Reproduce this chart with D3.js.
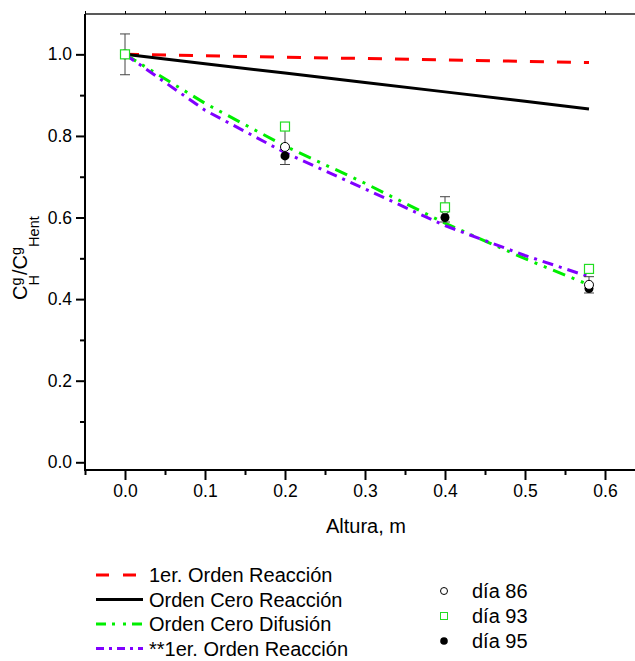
<!DOCTYPE html>
<head>
  <meta charset="utf-8">
  <title>Altura vs C/Cent</title>
  <script src="https://d3js.org/d3.v7.min.js"></script>
  <style>
    body { margin: 0; background: #fff; }
    text { font-family: "Liberation Sans", Arial, sans-serif; fill: #000; }
  </style>
</head>
<body>
<svg width="635" height="661"></svg>

<script type="text/javascript">

// model curves, all sampled at the same heights
var xModel = [0, 0.1, 0.2, 0.3, 0.4, 0.5, 0.58];
var rxn1   = [1.0, 0.9966, 0.9931, 0.9897, 0.9862, 0.9828, 0.980];
var rxn0   = [1.0, 0.977, 0.954, 0.931, 0.908, 0.885, 0.866];
var dif0   = [1.0, 0.880, 0.775, 0.684, 0.586, 0.499, 0.435];
var rxn1b  = [1.0, 0.863, 0.759, 0.670, 0.580, 0.507, 0.455];

// measurements
var xData  = [0, 0.2, 0.4, 0.58];
var dia86  = [1.0, 0.773, 0.620, 0.435];
var err86  = [0.05, 0.043, 0.031, 0.02];
var dia93  = [1.0, 0.823, 0.625, 0.474];
var dia95  = [1.0, 0.751, 0.600, 0.426];

var xTicks = [0, 0.1, 0.2, 0.3, 0.4, 0.5, 0.6];
var yTicks = [0, 0.2, 0.4, 0.6, 0.8, 1.0];

var lineNames = ["1er. Orden Reacción", "Orden Cero Reacción", "Orden Cero Difusión", "**1er. Orden Reacción"];
var pointNames = ["día 86", "día 93", "día 95"];

var svg = d3.select("svg");

var x = d3.scaleLinear().domain([-0.05, 0.65]).range([85, 645]);
var y = d3.scaleLinear().domain([-0.0189, 1.0989]).range([470, 14]);

// frame top line
svg.append("line").attr("x1", 85).attr("x2", 645).attr("y1", 14).attr("y2", 14)
  .attr("stroke", "#222").attr("stroke-width", 1.5);

// top ticks (small, outward)
svg.append("g").attr("transform", "translate(0,14)")
  .call(d3.axisTop(x).tickValues(d3.range(-0.05, 0.66, 0.05)).tickSize(3).tickFormat(""))
  .call(function(g) { g.select(".domain").remove(); g.selectAll("line").attr("stroke-width", 1); });

// bottom axis
var xAxis = svg.append("g").attr("transform", "translate(0,470)");
xAxis.call(d3.axisBottom(x).tickValues(d3.range(-0.05, 0.66, 0.1)).tickSize(5).tickFormat(""))
  .call(function(g) { g.select(".domain").remove(); });
xAxis.append("g").call(d3.axisBottom(x).tickValues(xTicks).tickSize(10).tickPadding(5).tickFormat(d3.format(".1f")))
  .call(function(g) { g.select(".domain").remove(); g.selectAll("text").attr("font-size", 17.5).attr("font-family", null); });
xAxis.selectAll("line").attr("stroke-width", 2);
svg.append("line").attr("x1", 84).attr("x2", 645).attr("y1", 470).attr("y2", 470)
  .attr("stroke", "#000").attr("stroke-width", 2);

// left axis
var yAxis = svg.append("g").attr("transform", "translate(85,0)");
yAxis.call(d3.axisLeft(y).tickValues([0.1, 0.3, 0.5, 0.7, 0.9]).tickSize(5).tickFormat(""))
  .call(function(g) { g.select(".domain").remove(); });
yAxis.append("g").call(d3.axisLeft(y).tickValues(yTicks).tickSize(9).tickPadding(4).tickFormat(d3.format(".1f")))
  .call(function(g) { g.select(".domain").remove(); g.selectAll("text").attr("font-size", 17.5).attr("font-family", null); });
yAxis.selectAll("line").attr("stroke-width", 2);
svg.append("line").attr("x1", 85).attr("x2", 85).attr("y1", 14).attr("y2", 471)
  .attr("stroke", "#000").attr("stroke-width", 2);

// axis titles
svg.append("text").attr("x", 366).attr("y", 533).attr("text-anchor", "middle")
  .attr("font-size", 20).text("Altura, m");

var yt = svg.append("text").attr("transform", "translate(27,300) rotate(-90)").attr("font-size", 20);
yt.append("tspan").text("C");
yt.append("tspan").attr("font-size", 14.5).attr("dy", -6).text("g");
yt.append("tspan").attr("font-size", 14.5).attr("dx", -8).attr("dy", 18).text("H");
yt.append("tspan").attr("dy", -12).text("/C");
yt.append("tspan").attr("font-size", 14.5).attr("dy", -6).text("g");
yt.append("tspan").attr("font-size", 14.5).attr("dy", 18).text("Hent");

// model lines
var lineStyles = [
  { values: rxn1,  color: "#ff0000", dash: "14,13",          legDash: "13,14" },
  { values: rxn0,  color: "#000000", dash: null,             legDash: null },
  { values: dif0,  color: "#00ee00", dash: "13,7,3,7,3,7",   legDash: "10,6,3,8,3,6" },
  { values: rxn1b, color: "#8000ff", dash: "11,6,3,6",       legDash: "8,5,3,5" }
];

var line = d3.line().x(function(d) { return x(d[0]); }).y(function(d) { return y(d[1]); });

lineStyles.forEach(function(s) {
  svg.append("path")
    .attr("d", line(d3.zip(xModel, s.values)))
    .attr("fill", "none")
    .attr("stroke", s.color)
    .attr("stroke-width", 3)
    .attr("stroke-dasharray", s.dash);
});

// error bars on dia 86
var eb = svg.append("g").attr("stroke", "#444").attr("stroke-width", 1);
xData.forEach(function(xv, i) {
  var cx = x(xv);
  eb.append("line").attr("x1", cx).attr("x2", cx).attr("y1", y(dia86[i] - err86[i])).attr("y2", y(dia86[i] + err86[i]));
  eb.append("line").attr("x1", cx - 5).attr("x2", cx + 5).attr("y1", y(dia86[i] - err86[i])).attr("y2", y(dia86[i] - err86[i]));
  eb.append("line").attr("x1", cx - 5).attr("x2", cx + 5).attr("y1", y(dia86[i] + err86[i])).attr("y2", y(dia86[i] + err86[i]));
});

// points
svg.append("g").selectAll("circle").data(d3.zip(xData, dia95)).enter().append("circle")
  .attr("cx", function(d) { return x(d[0]); }).attr("cy", function(d) { return y(d[1]); })
  .attr("r", 4.5).attr("fill", "#000");
svg.append("g").selectAll("circle").data(d3.zip(xData, dia86)).enter().append("circle")
  .attr("cx", function(d) { return x(d[0]); }).attr("cy", function(d) { return y(d[1]); })
  .attr("r", 4.5).attr("fill", "#fff").attr("stroke", "#000").attr("stroke-width", 1);
svg.append("g").selectAll("rect").data(d3.zip(xData, dia93)).enter().append("rect")
  .attr("x", function(d) { return x(d[0]) - 4.5; }).attr("y", function(d) { return y(d[1]) - 4.5; })
  .attr("width", 9).attr("height", 9).attr("fill", "#fff").attr("stroke", "#22dd22").attr("stroke-width", 1.2);

// legend: lines
var legL = svg.append("g").attr("transform", "translate(96,575)");
lineStyles.forEach(function(s, i) {
  var g = legL.append("g").attr("transform", "translate(0," + (i * 24.5) + ")");
  g.append("line").attr("x1", 0).attr("x2", 47).attr("y1", 0).attr("y2", 0)
    .attr("stroke", s.color).attr("stroke-width", 3)
    .attr("stroke-dasharray", s.legDash);
  g.append("text").attr("x", 53).attr("y", 7).attr("font-size", 20).text(lineNames[i]);
});

// legend: points
var legR = svg.append("g").attr("transform", "translate(444,591)");
pointNames.forEach(function(n, i) {
  var g = legR.append("g").attr("transform", "translate(0," + (i * 25) + ")");
  if (i == 0) g.append("circle").attr("r", 3.5).attr("fill", "#fff").attr("stroke", "#000");
  if (i == 1) g.append("rect").attr("x", -3.5).attr("y", -3.5).attr("width", 7).attr("height", 7)
    .attr("fill", "#fff").attr("stroke", "#22dd22");
  if (i == 2) g.append("circle").attr("r", 3.8).attr("fill", "#000");
  g.append("text").attr("x", 28).attr("y", 6.5).attr("font-size", 20).text(n);
});

</script>
</body>
</html>
